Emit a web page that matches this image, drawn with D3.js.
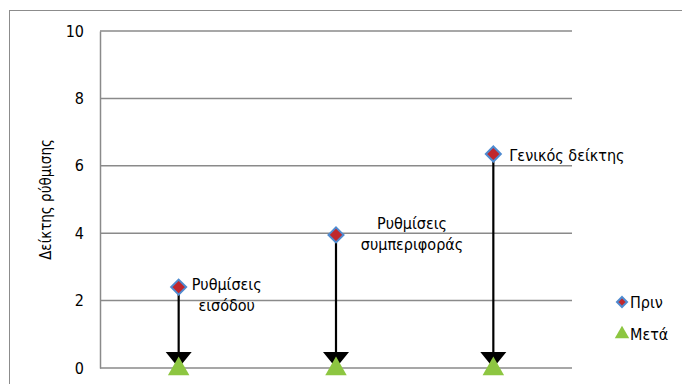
<!DOCTYPE html>
<html>
<head>
<meta charset="utf-8">
<script src="https://cdn.jsdelivr.net/npm/d3@7"></script>
<style>
  body { margin: 0; background: #fff; }
  svg text { font-family: "DejaVu Sans Condensed", "DejaVu Sans", sans-serif; font-stretch: condensed; fill: #000; }
</style>
</head>
<body>
<div id="chart"></div>
<script>
let categories = ["Ρυθμίσεις εισόδου", "Ρυθμίσεις συμπεριφοράς", "Γενικός δείκτης"];
let labelLines = [["Ρυθμίσεις", "εισόδου"], ["Ρυθμίσεις", "συμπεριφοράς"], ["Γενικός δείκτης"]];
let before = [2.4, 3.95, 6.35];
let after = [0, 0, 0];
let yTicks = [0, 2, 4, 6, 8, 10];
let seriesNames = ["Πριν", "Μετά"];

let width = 682,
  height = 384,
  plotLeft = 100,
  plotRight = 572,
  plotTop = 31,
  plotBottom = 368;

let svg = d3.select("#chart").append("svg")
  .attr("width", width)
  .attr("height", height);

// outer frame
svg.append("rect")
  .attr("x", 9.5).attr("y", 10.5)
  .attr("width", 700).attr("height", 400)
  .attr("fill", "none")
  .attr("stroke", "#8c8c8c")
  .attr("stroke-width", 1);

let x = d3.scaleBand().domain(categories).range([plotLeft, plotRight]);
let y = d3.scaleLinear().domain([0, 10]).range([plotBottom, plotTop]);

// gridlines
svg.append("g")
  .selectAll("line")
  .data(yTicks)
  .enter()
  .append("line")
  .attr("x1", plotLeft).attr("x2", plotRight)
  .attr("y1", (d) => y(d)).attr("y2", (d) => y(d))
  .attr("stroke", "#8a8a8a")
  .attr("stroke-width", 1.5);

// y axis
let yAxis = d3.axisLeft(y).tickValues(yTicks).tickSize(0).tickPadding(16);
let gy = svg.append("g")
  .attr("transform", "translate(" + plotLeft + ",0)")
  .call(yAxis);
gy.select(".domain").attr("stroke", "#8a8a8a").attr("stroke-width", 1.5);
gy.selectAll("text")
  .style("font-family", '"DejaVu Sans Condensed", "DejaVu Sans", sans-serif')
  .style("font-size", "16px");

svg.append("text")
  .attr("transform", "translate(51," + (plotTop + plotBottom) / 2 + ") rotate(-90)")
  .attr("text-anchor", "middle")
  .style("font-size", "15px")
  .text("Δείκτης ρύθμισης");

let cx = (d, i) => x(categories[i]) + x.bandwidth() / 2;

// arrows from before to after
svg.append("g")
  .selectAll("line")
  .data(before)
  .enter()
  .append("line")
  .attr("x1", (d, i) => cx(d, i)).attr("x2", (d, i) => cx(d, i))
  .attr("y1", (d) => y(d))
  .attr("y2", (d, i) => y(after[i]) - 14)
  .attr("stroke", "#000")
  .attr("stroke-width", 2.2);

svg.append("g")
  .selectAll("path")
  .data(after)
  .enter()
  .append("path")
  .attr("d", (d, i) => {
    let px = cx(d, i), py = y(d);
    return "M" + (px - 13) + "," + (py - 16) + "L" + (px + 13) + "," + (py - 16) + "L" + px + "," + py + "Z";
  })
  .attr("fill", "#000");

// after markers (triangles)
let tri = d3.symbol().type(d3.symbolTriangle).size(200);
svg.append("g")
  .selectAll("path")
  .data(after)
  .enter()
  .append("path")
  .attr("d", tri)
  .attr("transform", (d, i) => "translate(" + cx(d, i) + "," + (y(d) + 1) + ")")
  .attr("fill", "#8dc641");

// before markers (diamonds)
let diamond = (s) => "M0," + -s + "L" + s + ",0L0," + s + "L" + -s + ",0Z";
svg.append("g")
  .selectAll("path")
  .data(before)
  .enter()
  .append("path")
  .attr("d", diamond(7.5))
  .attr("transform", (d, i) => "translate(" + cx(d, i) + "," + y(d) + ")")
  .attr("fill", "#c0272d")
  .attr("stroke", "#4f8bd0")
  .attr("stroke-width", 2);

// data labels
let labelPos = [
  { dx: 48, dy: -3, anchor: "middle" },
  { dx: 76, dy: -11, anchor: "middle" },
  { dx: 16, dy: 1, anchor: "start" }
];
before.forEach((d, i) => {
  let lines = labelLines[i];
  let p = labelPos[i];
  let t = svg.append("text")
    .attr("x", cx(d, i) + p.dx)
    .attr("y", y(d) + p.dy)
    .attr("text-anchor", p.anchor)
    .style("font-size", "16px");
  lines.forEach((s, j) => {
    t.append("tspan")
      .attr("x", cx(d, i) + p.dx)
      .attr("dy", j === 0 ? "0.35em" : 21)
      .text(s);
  });
});

// legend
let lg = svg.append("g").attr("transform", "translate(622,302)");
lg.append("path")
  .attr("d", diamond(5))
  .attr("fill", "#c0272d")
  .attr("stroke", "#4f8bd0")
  .attr("stroke-width", 2);
lg.append("text")
  .attr("x", 8).attr("y", 0).attr("dy", "0.35em")
  .style("font-size", "16px")
  .text(seriesNames[0]);
lg.append("path")
  .attr("d", d3.symbol().type(d3.symbolTriangle).size(90))
  .attr("transform", "translate(0,32)")
  .attr("fill", "#8dc641");
lg.append("text")
  .attr("x", 8).attr("y", 32).attr("dy", "0.35em")
  .style("font-size", "16px")
  .text(seriesNames[1]);
</script>
</body>
</html>
